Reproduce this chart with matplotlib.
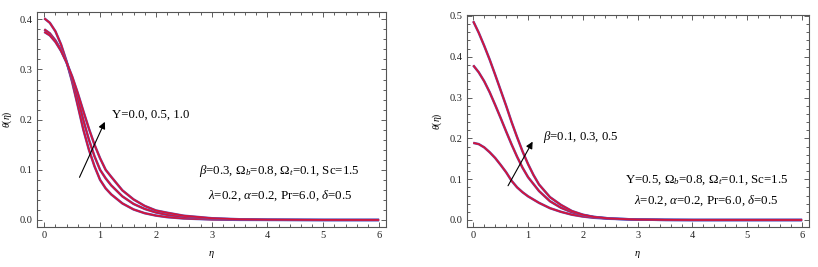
import matplotlib
matplotlib.use("Agg")
import matplotlib.pyplot as plt
from matplotlib.ticker import MultipleLocator

plt.rcParams['font.family'] = ['Liberation Serif', 'DejaVu Serif']
plt.rcParams['mathtext.fontset'] = 'custom'
plt.rcParams['mathtext.rm'] = 'Liberation Serif'
plt.rcParams['mathtext.it'] = 'Liberation Serif:italic'
plt.rcParams['mathtext.bf'] = 'Liberation Serif:bold'

eta = [0.0, 0.1, 0.2, 0.3, 0.4, 0.5, 0.6, 0.7, 0.8, 0.9, 1.0, 1.1, 1.2,
       1.4, 1.6, 1.8, 2.0, 2.2, 2.5, 3.0, 3.5, 4.0, 5.0, 6.0]

# Left panel: Upsilon = 0.0, 0.5, 1.0
theta_u0 = [0.402, 0.393, 0.376, 0.350, 0.316, 0.275, 0.228, 0.180, 0.140, 0.107, 0.080,
            0.063, 0.051, 0.033, 0.021, 0.0135, 0.0088, 0.0057, 0.003, 0.001, 0.0003,
            0.0001, 0.0, 0.0]
theta_u05 = [0.380, 0.372, 0.358, 0.339, 0.314, 0.281, 0.243, 0.199, 0.160, 0.127, 0.100,
             0.083, 0.069, 0.047, 0.032, 0.022, 0.015, 0.0103, 0.006, 0.0024, 0.001,
             0.0004, 0.0, 0.0]
theta_u10 = [0.375, 0.368, 0.355, 0.337, 0.314, 0.286, 0.253, 0.217, 0.182, 0.150, 0.123,
             0.100, 0.086, 0.059, 0.041, 0.028, 0.019, 0.0145, 0.0085, 0.0035, 0.0014,
             0.0006, 0.0001, 0.0]

# Right panel: beta = 0.1, 0.3, 0.5
theta_b01 = [0.189, 0.186, 0.178, 0.166, 0.152, 0.135, 0.117, 0.096, 0.080, 0.068, 0.058,
             0.050, 0.042, 0.029, 0.020, 0.013, 0.0085, 0.0055, 0.003, 0.001, 0.0003,
             0.0, 0.0, 0.0]
theta_b03 = [0.379, 0.362, 0.340, 0.313, 0.282, 0.250, 0.217, 0.185, 0.155, 0.128, 0.105,
             0.088, 0.071, 0.046, 0.030, 0.019, 0.012, 0.0075, 0.0035, 0.001, 0.0003,
             0.0, 0.0, 0.0]
theta_b05 = [0.487, 0.459, 0.427, 0.393, 0.356, 0.318, 0.280, 0.240, 0.203, 0.168, 0.137,
             0.110, 0.087, 0.056, 0.037, 0.022, 0.013, 0.0075, 0.0035, 0.001, 0.0003,
             0.0, 0.0, 0.0]

left_series = [theta_u0, theta_u05, theta_u10]
right_series = [theta_b01, theta_b03, theta_b05]

left_label = 'Υ=0.0, 0.5, 1.0'
right_label = r'$\beta$=0.1, 0.3, 0.5'
left_par1 = r'$\beta$=0.3, $\Omega_b$=0.8, $\Omega_t$=0.1, Sc=1.5'
right_par1 = r'Υ=0.5, $\Omega_b$=0.8, $\Omega_t$=0.1, Sc=1.5'
par2 = r'$\lambda$=0.2, $\alpha$=0.2, Pr=6.0, $\delta$=0.5'

fig = plt.figure(figsize=(8.18, 2.67), dpi=100)
ax1 = fig.add_axes([0.0452, 0.1498, 0.4267, 0.8052])
ax2 = fig.add_axes([0.5705, 0.1487, 0.4181, 0.794])

RED = '#d4143a'
BLUE = '#5a5ac0'

def style(ax, xlim, ylim, ymaj):
    ax.set_xlim(*xlim)
    ax.set_ylim(*ylim)
    ax.xaxis.set_major_locator(MultipleLocator(1))
    ax.xaxis.set_minor_locator(MultipleLocator(0.2))
    ax.yaxis.set_major_locator(MultipleLocator(ymaj))
    ax.yaxis.set_minor_locator(MultipleLocator(ymaj / 5))
    ax.yaxis.set_major_formatter(plt.FuncFormatter(lambda v, p: f"{v:.1f}"))
    ax.tick_params(which='both', direction='in', top=True, right=True,
                   labelsize=7.5, colors='#444444', labelcolor='#222222', width=0.6)
    ax.tick_params(which='major', length=3.5, pad=3)
    ax.tick_params(which='minor', length=2)
    for s in ax.spines.values():
        s.set_color('#555555')
        s.set_linewidth(0.8)

for ax, series in ((ax1, left_series), (ax2, right_series)):
    for th in series:
        ax.plot(eta, th, color=BLUE, lw=1.8, solid_capstyle='butt')
        ax.plot(eta, th, color=RED, lw=1.3, solid_capstyle='butt')

style(ax1, (-0.131, 6.124), (-0.014, 0.4146), 0.1)
style(ax2, (-0.12, 6.12), (-0.0179, 0.5017), 0.1)

for ax in (ax1, ax2):
    ax.set_xlabel(r'$\eta$', fontsize=7.5, labelpad=6)
    ax.set_ylabel(r'$\theta(\eta)$', fontsize=7, labelpad=4)

# Left annotations
ax1.annotate('', xy=(1.106, 0.2007), xytext=(0.61, 0.080),
             arrowprops=dict(arrowstyle='-|>', color='black', lw=0.8,
                             mutation_scale=10))
ax1.text(1.21, 0.209, left_label, fontsize=9.2, va='center', ha='left')
ax1.text(4.21, 0.098, left_par1, fontsize=9.3, va='center', ha='center')
ax1.text(4.22, 0.048, par2, fontsize=9.3, va='center', ha='center')

# Right annotations
ax2.annotate('', xy=(1.108, 0.198), xytext=(0.61, 0.078),
             arrowprops=dict(arrowstyle='-|>', color='black', lw=0.8,
                             mutation_scale=10))
ax2.text(1.266, 0.204, right_label, fontsize=9.2, va='center', ha='left')
ax2.text(4.25, 0.098, right_par1, fontsize=9.3, va='center', ha='center')
ax2.text(4.25, 0.0466, par2, fontsize=9.3, va='center', ha='center')

fig.savefig('out.png', dpi=100)
